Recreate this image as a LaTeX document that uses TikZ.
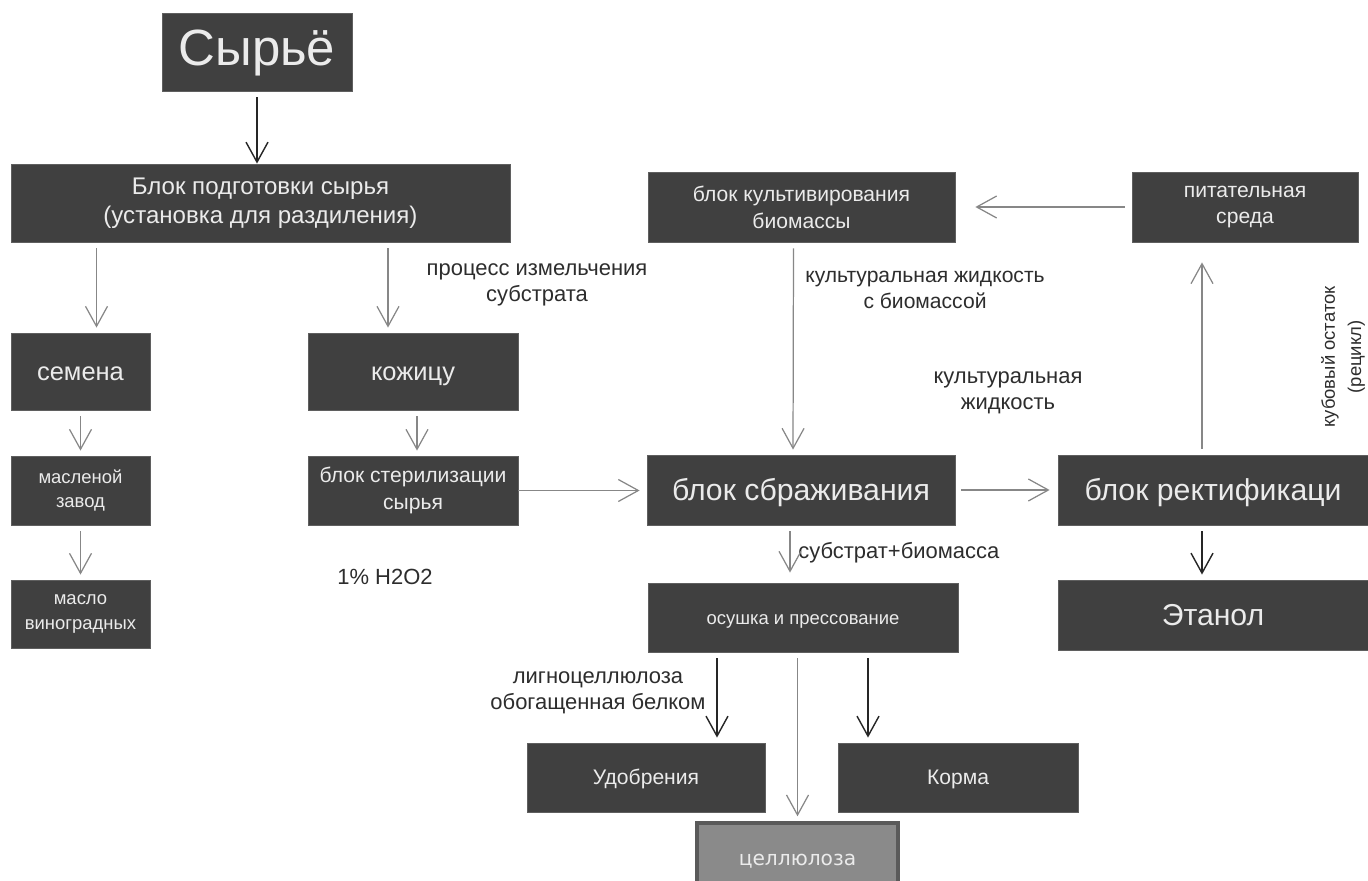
\documentclass[tikz,border=0pt]{standalone}
\usepackage{fontspec}
\setmainfont{Liberation Sans}
\newfontfamily\celfont{DejaVu Sans}
\usetikzlibrary{calc,arrows.meta}
\definecolor{BoxGrey}{RGB}{64,64,64}
\definecolor{EdgeGrey}{RGB}{95,95,95}
\definecolor{ArrGrey}{RGB}{135,135,135}
\definecolor{CelFill}{RGB}{138,138,138}
\definecolor{CelEdge}{RGB}{90,90,90}
\definecolor{TxtGrey}{RGB}{45,45,45}
\tikzset{blk/.style={draw=EdgeGrey,fill=BoxGrey,text=white!92!black,align=center,inner sep=0pt,line width=0.5pt},
  one/.style 2 args={text height=#1,text depth=#2},
  huge/.style={font=\fontsize{29}{34}\selectfont},
  mid/.style={font=\fontsize{13.7}{16.4}\selectfont},
  big/.style={font=\fontsize{14.5}{18}\selectfont},
  bigger/.style={font=\fontsize{17.2}{20}\selectfont},
  sml/.style={font=\fontsize{10.5}{14}\selectfont},
  smm/.style={font=\fontsize{12}{15.3}\selectfont},
  lbl/.style={text=TxtGrey,align=center,inner sep=0pt,font=\fontsize{12.5}{14.7}\selectfont},
  garr/.style={draw=ArrGrey,line width=0.7pt,-{Straight Barb[length=0.4cm,width=0.44cm]},shorten <=0.12cm,shorten >=0.1cm},
  barr/.style={draw=black!85,line width=0.8pt,-{Straight Barb[length=0.4cm,width=0.44cm]},shorten <=0.12cm,shorten >=0.1cm}}

\begin{document}
\begin{tikzpicture}[x=0.02cm,y=-0.02cm]
\clip (0,0) rectangle (1368,881);
\fill[white] (0,0) rectangle (1368,881);
% boxes
\node[blk,huge,one={21pt}{6pt},minimum width=3.8cm,minimum height=1.56cm] (syrie) at (257,52) {Сырьё};
\node[blk,mid,minimum width=9.98cm,minimum height=1.56cm] (podgot) at (260.5,203) {Блок подготовки сырья\\(установка для раздиления)};
\node[blk,big,one={12pt}{2pt},minimum width=2.78cm,minimum height=1.54cm] (semena) at (80.5,371.5) {семена};
\node[blk,big,one={12pt}{2pt},minimum width=4.2cm,minimum height=1.54cm] (kozhicu) at (413,371.5) {кожицу};
\node[blk,sml,minimum width=2.78cm,minimum height=1.38cm] (zavod) at (80.5,490.5) {масленой\\завод};
\node[blk,smm,minimum width=4.2cm,minimum height=1.38cm] (steril) at (413,490.5) {блок стерилизации\\сырья};
\node[blk,sml,minimum width=2.78cm,minimum height=1.36cm] (maslo) at (80.5,614) {масло\\виноградных};
\node[blk,smm,minimum width=6.14cm,minimum height=1.4cm] (kultiv) at (801.5,207) {блок культивирования\\биомассы};
\node[blk,smm,minimum width=4.52cm,minimum height=1.4cm] (sreda) at (1245,207) {питательная\\среда};
\node[blk,bigger,one={14pt}{2pt},minimum width=6.16cm,minimum height=1.4cm] (brozh) at (801,490) {блок сбраживания};
\node[blk,bigger,one={14pt}{2pt},minimum width=6.2cm,minimum height=1.4cm] (rektif) at (1213,490) {блок ректификаци};
\node[blk,bigger,one={14pt}{2pt},minimum width=6.2cm,minimum height=1.4cm] (etanol) at (1213,615) {Этанол};
\node[blk,sml,one={9pt}{1.5pt},minimum width=6.2cm,minimum height=1.38cm] (sushka) at (803,617.5) {осушка и прессование};
\node[blk,smm,one={10pt}{1.5pt},minimum width=4.76cm,minimum height=1.38cm] (udobr) at (646,777.5) {Удобрения};
\node[blk,smm,one={10pt}{1.5pt},minimum width=4.8cm,minimum height=1.38cm] (korma) at (958,777.5) {Корма};
\node[draw=CelEdge,line width=2pt,fill=CelFill,text=white!92!black,inner sep=0pt,one={9.5pt}{1.5pt},font=\celfont\fontsize{11.5}{13}\selectfont,minimum width=4.02cm,minimum height=1.4cm] (cell) at (797.5,858) {целлюлоза};
% labels
\node[lbl] (proc) at (537,285) {процесс измельчения\\субстрата};
\node[lbl] (hpero) at (385,577) {1\% H2O2};
\node[lbl,font=\fontsize{12}{14.7}\selectfont] (kzh1) at (925,290) {культуральная жидкость\\с биомассой};
\node[lbl] (kzh2) at (1008,393) {культуральная\\жидкость};
\node[lbl,rotate=90,font=\fontsize{10.5}{15}\selectfont] (kub) at (1343,357) {кубовый остаток\\(рецикл)};
\node[lbl,anchor=west] (subbio) at (798,553) {субстрат+биомасса};
\node[lbl] (lign) at (598,693) {лигноцеллюлоза\\обогащенная белком};
% arrows
\draw[barr,shorten >=0pt] (syrie.south) -- (syrie.south |- podgot.north);
\draw[garr] ($(podgot.south -| semena.north)+(16,0)$) -- ($(semena.north)+(16,0)$);
\draw[garr] ($(podgot.south -| kozhicu.north)+(-25,0)$) -- ($(kozhicu.north)+(-25,0)$);
\draw[garr] (semena.south) -- (zavod.north);
\draw[garr] ($(kozhicu.south)+(4,0)$) -- ($(steril.north)+(4,0)$);
\draw[garr] (zavod.south) -- (maslo.north);
\draw[garr,shorten <=0pt,shorten >=0.14cm] (steril.east) -- (steril.east -| brozh.west);
\draw[garr] ($(kultiv.south)+(-8,0)$) -- ($(brozh.north)+(-8,0)$);
\draw[garr,shorten <=0.14cm,shorten >=0.4cm] (sreda.west) -- (sreda.west -| kultiv.east);
\draw[garr,shorten >=0.4cm] ($(rektif.north)+(-11,0)$) -- ($(rektif.north |- sreda.south)+(-11,0)$);
\draw[garr,shorten >=0.16cm] (brozh.east) -- (brozh.east -| rektif.west);
\draw[barr] ($(rektif.south)+(-11,0)$) -- ($(etanol.north)+(-11,0)$);
\draw[garr,shorten >=0.2cm] ($(brozh.south)+(-11,0)$) -- ($(brozh.south |- sushka.north)+(-11,0)$);
\draw[barr] ($(sushka.south -| udobr.north)+(71,0)$) -- ($(udobr.north)+(71,0)$);
\draw[barr] ($(sushka.south -| korma.north)+(-90,0)$) -- ($(korma.north)+(-90,0)$);
\draw[garr] (sushka.south -| cell.north) -- (cell.north);
\end{tikzpicture}
\end{document}
